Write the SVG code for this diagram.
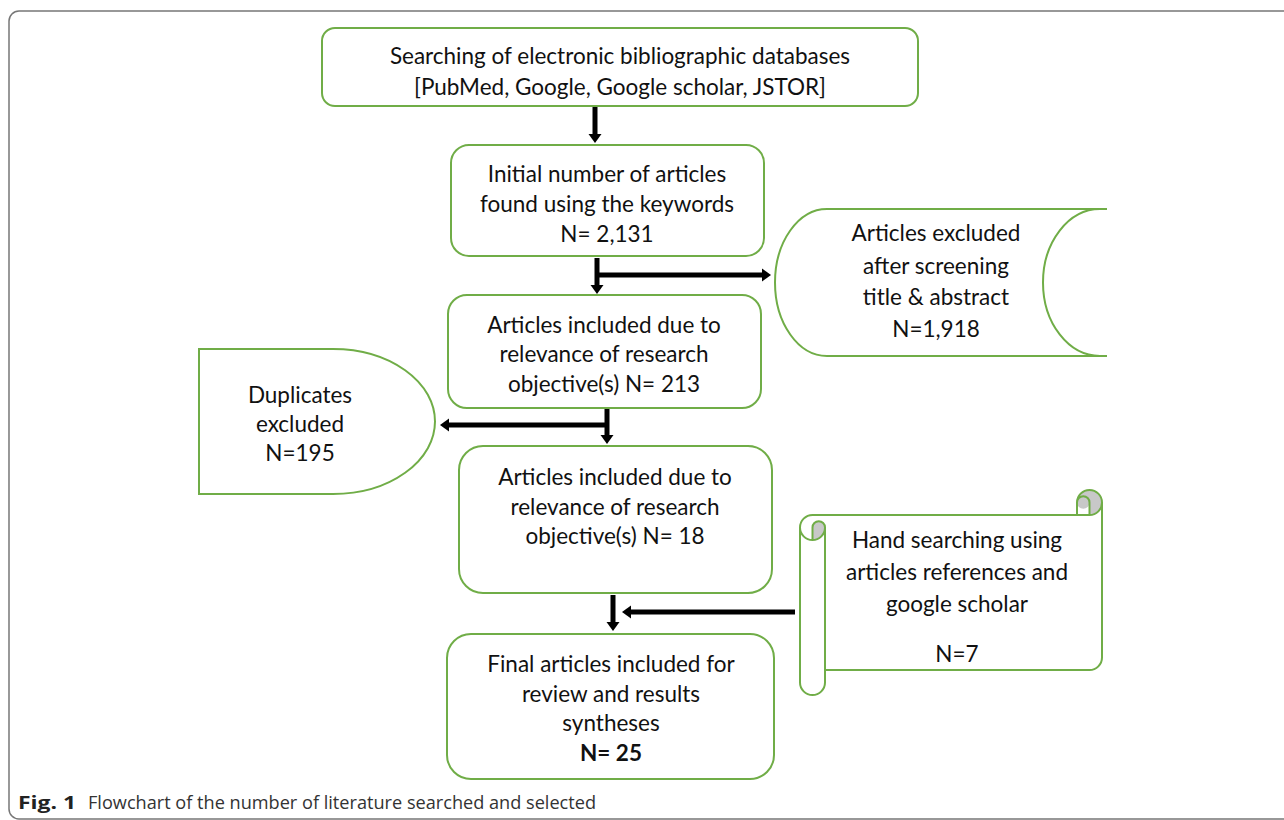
<svg xmlns="http://www.w3.org/2000/svg" width="1284" height="820" viewBox="0 0 1284 820">
<style>
.box{fill:#fff;stroke:#70AD47;stroke-width:2}
.t{font-family:Lato,"Open Sans","Liberation Sans",sans-serif;font-size:22.5px;fill:#111;text-anchor:middle}
.b{font-weight:bold}
.arr{stroke:#000;stroke-width:5;fill:none}
.cap{font-family:"Open Sans","Liberation Sans",sans-serif;font-size:18px;fill:#333}
</style>
<defs>
<marker id="ah" markerUnits="userSpaceOnUse" markerWidth="12" markerHeight="14" refX="0" refY="6.5" orient="auto" overflow="visible">
<path d="M0,0 L9,6.5 L0,13 Z" fill="#000"/>
</marker>
</defs>
<rect x="9" y="11" width="1300" height="808" rx="10" fill="#fff" stroke="#777" stroke-width="1.5"/>

<g id="connectors">
<line class="arr" x1="595" y1="106" x2="595" y2="134" marker-end="url(#ah)"/>
<line class="arr" x1="597" y1="258" x2="597" y2="285" marker-end="url(#ah)"/>
<line class="arr" x1="595" y1="275" x2="762" y2="275" marker-end="url(#ah)"/>
<line class="arr" x1="607" y1="408" x2="607" y2="435" marker-end="url(#ah)"/>
<line class="arr" x1="609" y1="425" x2="449" y2="425" marker-end="url(#ah)"/>
<line class="arr" x1="613" y1="595" x2="613" y2="622" marker-end="url(#ah)"/>
<line class="arr" x1="795" y1="612" x2="631" y2="612" marker-end="url(#ah)"/>
</g>

<g id="n1">
<rect class="box" x="322" y="28" width="596" height="78" rx="13"/>
<text class="t" x="620" y="64">Searching of electronic bibliographic databases</text>
<text class="t" x="620" y="95">[PubMed, Google, Google scholar, JSTOR]</text>
</g>

<g id="n2">
<rect class="box" x="451" y="145" width="313" height="111" rx="18"/>
<text class="t" x="607" y="182">Initial number of articles</text>
<text class="t" x="607" y="212">found using the keywords</text>
<text class="t" x="607" y="242">N= 2,131</text>
</g>

<g id="n3">
<path class="box" d="M1107,209 L827,209 A52,73.5 0 0 0 827,356 L1107,356"/>
<path class="box" fill="none" d="M1100,209 A57,73.5 0 0 0 1100,356"/>
<text class="t" x="936" y="241">Articles excluded</text>
<text class="t" x="936" y="274">after screening</text>
<text class="t" x="936" y="305">title &amp; abstract</text>
<text class="t" x="936" y="337">N=1,918</text>
</g>

<g id="n4">
<rect class="box" x="448" y="295" width="313" height="113" rx="19"/>
<text class="t" x="604" y="333">Articles included due to</text>
<text class="t" x="604" y="362">relevance of research</text>
<text class="t" x="604" y="392">objective(s) N= 213</text>
</g>

<g id="n5">
<path class="box" d="M333,349 L199,349 L199,494 L333,494 A102,72.5 0 0 0 333,349 Z"/>
<text class="t" x="300" y="403">Duplicates</text>
<text class="t" x="300" y="432">excluded</text>
<text class="t" x="300" y="461">N=195</text>
</g>

<g id="n6">
<rect class="box" x="459" y="446" width="313" height="147" rx="24"/>
<text class="t" x="615" y="485">Articles included due to</text>
<text class="t" x="615" y="515">relevance of research</text>
<text class="t" x="615" y="544">objective(s) N= 18</text>
</g>

<g id="n7">
<path d="M800,527.5 A12.5,12.5 0 0 1 812.5,515 L1077,515 L1077,502.5 A12.5,12.5 0 0 1 1102,502.5 L1102,657.5 A12.5,12.5 0 0 1 1089.5,670 L825,670 L825,682.5 A12.5,12.5 0 0 1 800,682.5 Z" fill="#fff"/>
<path d="M812.5,540 A12.5,12.5 0 0 0 825,527.5 A6.25,6.25 0 0 0 812.5,527.5 Z" fill="#c8c8c8"/>
<path d="M1089.5,515 A12.5,12.5 0 1 0 1077,502.5 A6.25,6.25 0 0 0 1089.5,502.5 Z" fill="#c8c8c8"/>
<path fill="none" stroke="#70AD47" stroke-width="2" d="M800,527.5 A12.5,12.5 0 0 1 812.5,515 L1077,515 L1077,502.5 A12.5,12.5 0 0 1 1102,502.5 L1102,657.5 A12.5,12.5 0 0 1 1089.5,670 L825,670 L825,682.5 A12.5,12.5 0 0 1 800,682.5 Z M1077,515 L1089.5,515 A12.5,12.5 0 0 0 1102,502.5 M1089.5,515 L1089.5,502.5 A6.25,6.25 0 0 0 1077,502.5 M812.5,540 L812.5,527.5 A6.25,6.25 0 0 1 825,527.5 A12.5,12.5 0 0 1 800,527.5 M825,527.5 L825,670"/>
<text class="t" x="957" y="548">Hand searching using</text>
<text class="t" x="957" y="580">articles references and</text>
<text class="t" x="957" y="612">google scholar</text>
<text class="t" x="957" y="662">N=7</text>
</g>

<g id="n8">
<rect class="box" x="447" y="634" width="327" height="145" rx="24"/>
<text class="t" x="611" y="672">Final articles included for</text>
<text class="t" x="611" y="702">review and results</text>
<text class="t" x="611" y="731">syntheses</text>
<text class="t b" x="611" y="761">N= 25</text>
</g>

<g id="caption">
<text class="cap" x="18" y="809"><tspan font-weight="bold" fill="#222" textLength="58" lengthAdjust="spacingAndGlyphs">Fig. 1</tspan></text>
<text class="cap" x="88" y="809" textLength="508" lengthAdjust="spacingAndGlyphs">Flowchart of the number of literature searched and selected</text>
</g>
</svg>
